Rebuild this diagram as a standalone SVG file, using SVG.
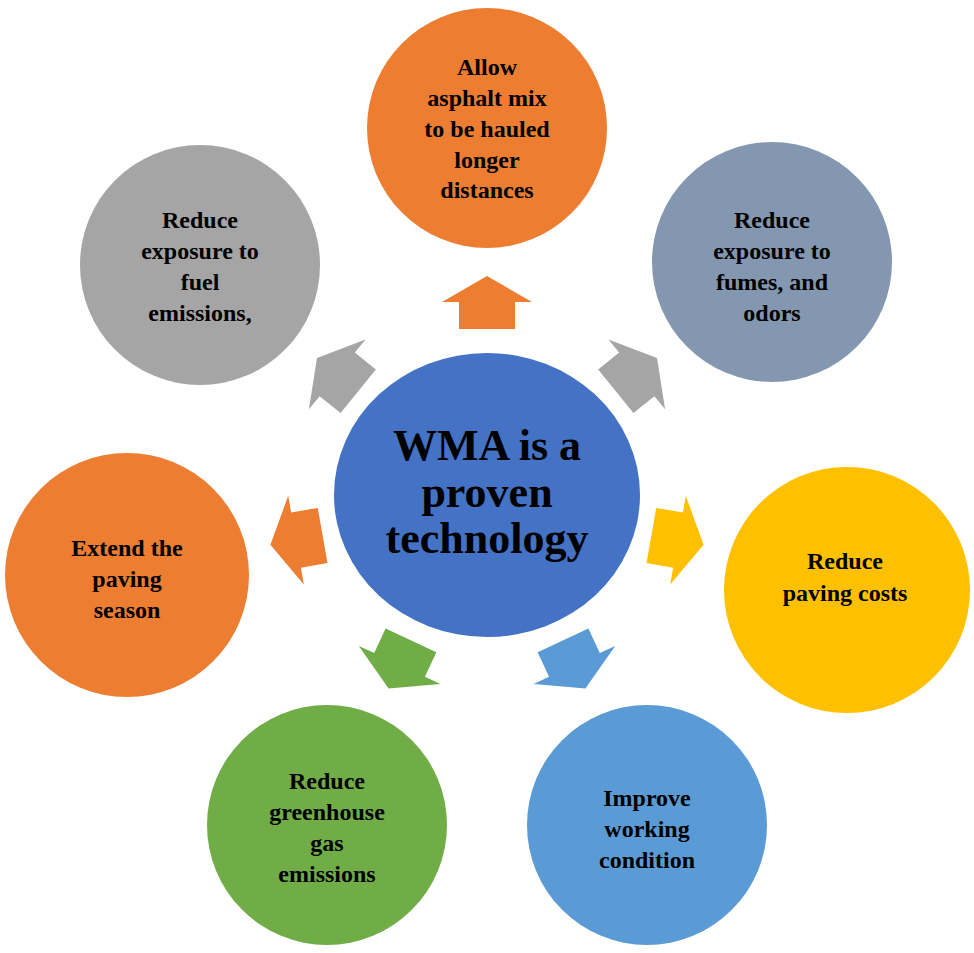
<svg xmlns="http://www.w3.org/2000/svg" width="974" height="953" viewBox="0 0 974 953">
<style>
text{font-family:"Liberation Serif","Times New Roman",serif;font-weight:bold;fill:#000;text-anchor:middle}
.t{font-size:24px}
.c{font-size:44px}
</style>
<defs>
<path id="arr" d="M0,-27 L45,-1 L28,-1 L28,26 L-28,26 L-28,-1 L-45,-1 Z"/>
</defs>
<rect width="974" height="953" fill="#fff"/>
<g id="connectors">
<use href="#arr" fill="#ED7D31" transform="translate(487,303)"/>
<use href="#arr" fill="#A5A5A5" transform="translate(338,375) rotate(-51)"/>
<use href="#arr" fill="#A5A5A5" transform="translate(636,375) rotate(51)"/>
<use href="#arr" fill="#FFC000" transform="translate(677,540) rotate(100)"/>
<use href="#arr" fill="#ED7D31" transform="translate(297,540) rotate(-100)"/>
<use href="#arr" fill="#70AD47" transform="translate(400,664) rotate(-155)"/>
<use href="#arr" fill="#5B9BD5" transform="translate(574,664) rotate(155)"/>
</g>
<g id="center"><ellipse cx="487" cy="495" rx="153" ry="142" fill="#4472C4"/>
<text class="c" x="487" y="460">WMA is a</text><text class="c" x="487" y="507">proven</text><text class="c" x="487" y="553">technology</text></g>
<g id="n-top"><circle cx="487" cy="128" r="120" fill="#ED7D31"/>
<text class="t" x="487" y="75">Allow</text><text class="t" x="487" y="106">asphalt mix</text><text class="t" x="487" y="137">to be hauled</text><text class="t" x="487" y="168">longer</text><text class="t" x="487" y="198">distances</text></g>
<g id="n-tl"><circle cx="200" cy="265" r="120" fill="#A5A5A5"/>
<text class="t" x="200" y="228">Reduce</text><text class="t" x="200" y="259">exposure to</text><text class="t" x="200" y="290">fuel</text><text class="t" x="200" y="321">emissions,</text></g>
<g id="n-tr"><circle cx="772" cy="262" r="120" fill="#8497B0"/>
<text class="t" x="772" y="228">Reduce</text><text class="t" x="772" y="259">exposure to</text><text class="t" x="772" y="290">fumes, and</text><text class="t" x="772" y="321">odors</text></g>
<g id="n-r"><circle cx="847" cy="590" r="123" fill="#FFC000"/>
<text class="t" x="845" y="569">Reduce</text><text class="t" x="845" y="601">paving costs</text></g>
<g id="n-br"><circle cx="647" cy="825" r="120" fill="#5B9BD5"/>
<text class="t" x="647" y="806">Improve</text><text class="t" x="647" y="837">working</text><text class="t" x="647" y="868">condition</text></g>
<g id="n-bl"><circle cx="327" cy="825" r="120" fill="#70AD47"/>
<text class="t" x="327" y="789">Reduce</text><text class="t" x="327" y="820">greenhouse</text><text class="t" x="327" y="851">gas</text><text class="t" x="327" y="882">emissions</text></g>
<g id="n-l"><circle cx="127" cy="575" r="122" fill="#ED7D31"/>
<text class="t" x="127" y="556">Extend the</text><text class="t" x="127" y="587">paving</text><text class="t" x="127" y="618">season</text></g>
</svg>
